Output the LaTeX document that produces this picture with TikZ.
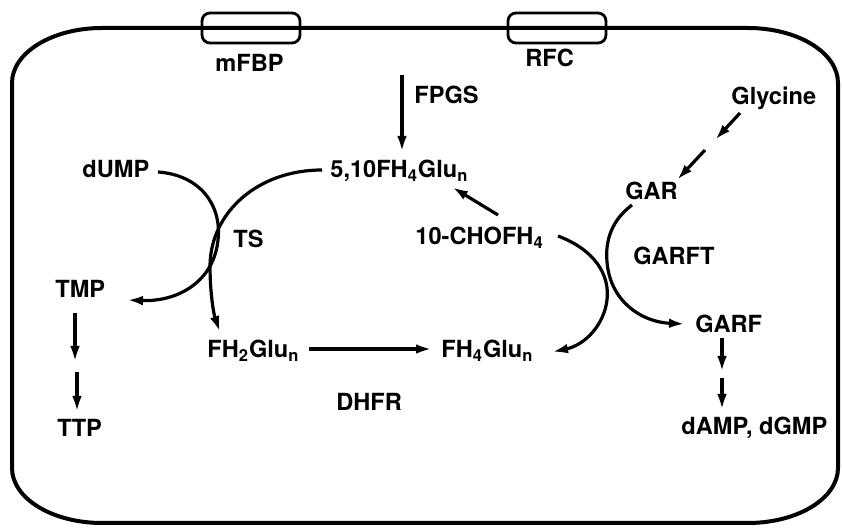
\documentclass[tikz,border=0pt]{standalone}
\usepackage{fontspec}
\setmainfont{TeX Gyre Heros}
\usetikzlibrary{arrows.meta}
\begin{document}
\begin{tikzpicture}[x=0.5pt,y=-0.5pt,
  lbl/.style={anchor=base west,inner sep=0pt,font=\fontsize{11.8}{13}\selectfont\bfseries},
  conn/.style={line width=1.6pt,-{Latex[length=8pt,width=4.8pt]}},
  memb/.style={line width=2pt},
  chan/.style={draw,line width=1.4pt,rounded corners=4pt,minimum width=49pt,minimum height=15pt,inner sep=0pt}]
\useasboundingbox (0,0) rectangle (843,529);
% cell membrane
\draw[memb] (102,28) -- (748,28)
  arc[start angle=270,end angle=360,x radius=90,y radius=55] -- (838,468)
  arc[start angle=0,end angle=90,x radius=90,y radius=55] -- (102,523)
  arc[start angle=90,end angle=180,x radius=90,y radius=55] -- (12,83)
  arc[start angle=180,end angle=270,x radius=90,y radius=55] -- cycle;
% channels
\node[chan] (mfbpbox) at (251,28) {};
\node[chan] (rfcbox) at (557,28) {};
% labels
\node[lbl] (mFBP) at (215,72) {mFBP};
\node[lbl] (RFC) at (525,67) {RFC};
\node[lbl] (FPGS) at (414,104) {FPGS};
\node[lbl] (Gly) at (731,105) {Glycine};
\node[lbl] (dUMP) at (82,178) {dUMP};
\node[lbl] (MTHF) at (330,178) {5,10FH\textsubscript{4}Glu\textsubscript{n}};
\node[lbl] (TS) at (233,248) {TS};
\node[lbl] (CHO) at (415,245) {10-CHOFH\textsubscript{4}};
\node[lbl] (GAR) at (625,200) {GAR};
\node[lbl] (GARFT) at (633,265) {GARFT};
\node[lbl] (TMP) at (55,298) {TMP};
\node[lbl] (GARF) at (695,333) {GARF};
\node[lbl] (FH2) at (207,358) {FH\textsubscript{2}Glu\textsubscript{n}};
\node[lbl] (FH4) at (441,358) {FH\textsubscript{4}Glu\textsubscript{n}};
\node[lbl] (DHFR) at (336,411) {DHFR};
\node[lbl] (TTP) at (57,437) {TTP};
\node[lbl] (dAMP) at (681,435) {dAMP, dGMP};
% connector end points
\coordinate (fpgsA) at (402,75);
\coordinate (fpgsB) at (402,152);
\coordinate (dumpA) at (158,172);
\coordinate (tmpB) at (127,300);
\coordinate (mthfA) at (322,170);
\coordinate (fh2B) at (220,332);
\coordinate (choA) at (558,236);
\coordinate (fh4B) at (552,352);
\coordinate (garA) at (632,205);
\coordinate (garfB) at (685,324);
\coordinate (choB) at (498,215);
\coordinate (mthfB) at (452,187);
\coordinate (fh2A) at (309,349);
\coordinate (fh4A) at (432,349);
\coordinate (glyA) at (740,113);
\coordinate (glyM1) at (715,140);
\coordinate (glyM2) at (705,150);
\coordinate (garB) at (677,180);
\coordinate (tmpA) at (75,313);
\coordinate (tmpM1) at (75,362);
\coordinate (tmpM2) at (77,372);
\coordinate (ttpB) at (77,412);
\coordinate (garfA) at (722,338);
\coordinate (garfM1) at (722,372);
\coordinate (garfM2) at (722,378);
\coordinate (dampB) at (722,410);
% connectors
\draw[conn] (fpgsA) -- (fpgsB);
\draw[conn] (dumpA) .. controls (200,175) and (222,205) .. (218,240) .. controls (214,280) and (180,302) .. (tmpB);
\draw[conn] (mthfA) .. controls (258,170) and (211,212) .. (210,265) .. controls (210,295) and (214,315) .. (fh2B);
\draw[conn] (choA) .. controls (595,250) and (610,275) .. (607,300) .. controls (604,325) and (585,345) .. (fh4B);
\draw[conn] (garA) .. controls (612,220) and (605,240) .. (607,262) .. controls (610,300) and (640,322) .. (garfB);
\draw[conn] (choB) -- (mthfB);
\draw[conn] (fh2A) -- (fh4A);
\draw[conn] (glyA) -- (glyM1);
\draw[conn] (glyM2) -- (garB);
\draw[conn] (tmpA) -- (tmpM1);
\draw[conn] (tmpM2) -- (ttpB);
\draw[conn] (garfA) -- (garfM1);
\draw[conn] (garfM2) -- (dampB);
\end{tikzpicture}
\end{document}
